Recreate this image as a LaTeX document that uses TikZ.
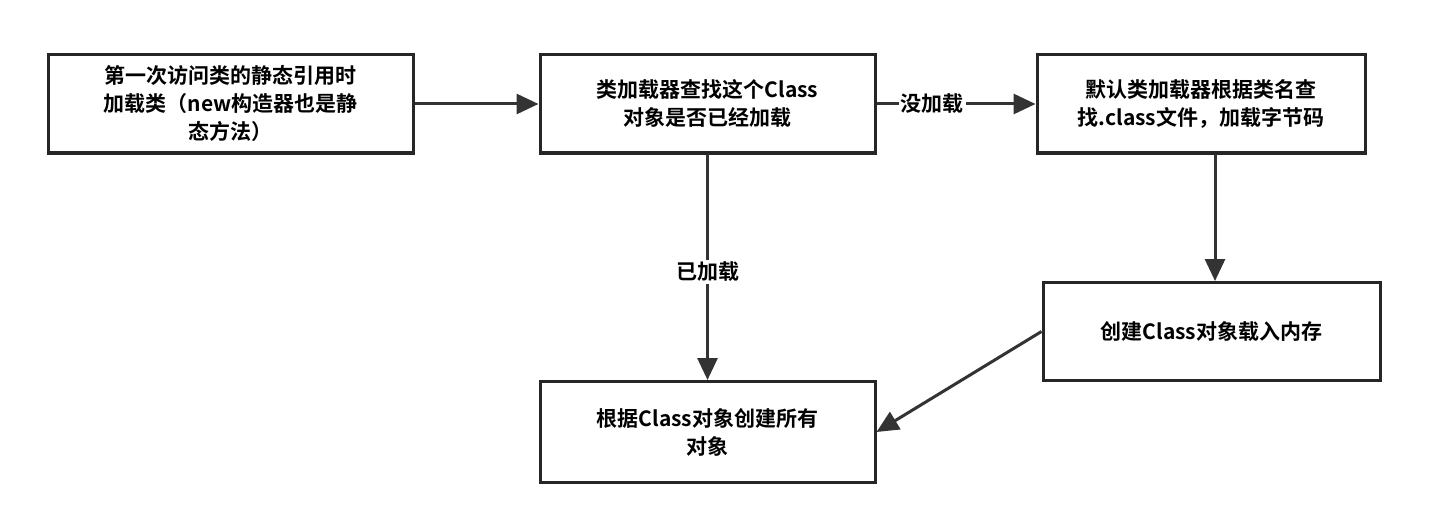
\documentclass[tikz,border=0pt]{standalone}
\usepackage{fontspec}
\newfontfamily\cjk{Noto Sans CJK SC}[BoldFont={Noto Sans CJK SC Bold}]
\usetikzlibrary{arrows.meta}
\begin{document}
\begin{tikzpicture}[x=1pt,y=-1pt,
  box/.style={draw=black!85,line width=3pt,minimum width=#1,minimum height=98pt,inner sep=0pt,align=center,font=\cjk\bfseries\fontsize{21}{28}\selectfont},
  arr/.style={draw=black!80,line width=3pt,-{Triangle[length=22pt,width=20pt]}},
  lbl/.style={font=\cjk\bfseries\fontsize{21}{28}\selectfont,fill=white,inner sep=2pt}]
\useasboundingbox (0,0) rectangle (1440,532);
\node[box=365pt] (a) at (230.5,104) {第一次访问类的静态引用时\\加载类（new构造器也是静\\态方法）};
\node[box=335pt] (b) at (707.5,104) {类加载器查找这个Class\\对象是否已经加载};
\node[box=328pt] (c) at (1201,104) {默认类加载器根据类名查\\找.class文件，加载字节码};
\node[box=337pt] (d) at (1211.5,331.5) {创建Class对象载入内存};
\node[box=335pt,minimum height=101pt] (e) at (707.5,432) {根据Class对象创建所有\\对象};
\draw[arr] (a.east) -- (b.west);
\draw[arr] (b.east) -- node[lbl,pos=0.35] (l1) {没加载} (c.west);
\draw[arr] (b.south) -- node[lbl,pos=0.52] (l2) {已加载} (e.north);
\draw[arr] (c.south -| 1215,0) -- (d.north -| 1215,0);
\draw[arr] (d.west) -- (e.east);
\end{tikzpicture}
\end{document}
